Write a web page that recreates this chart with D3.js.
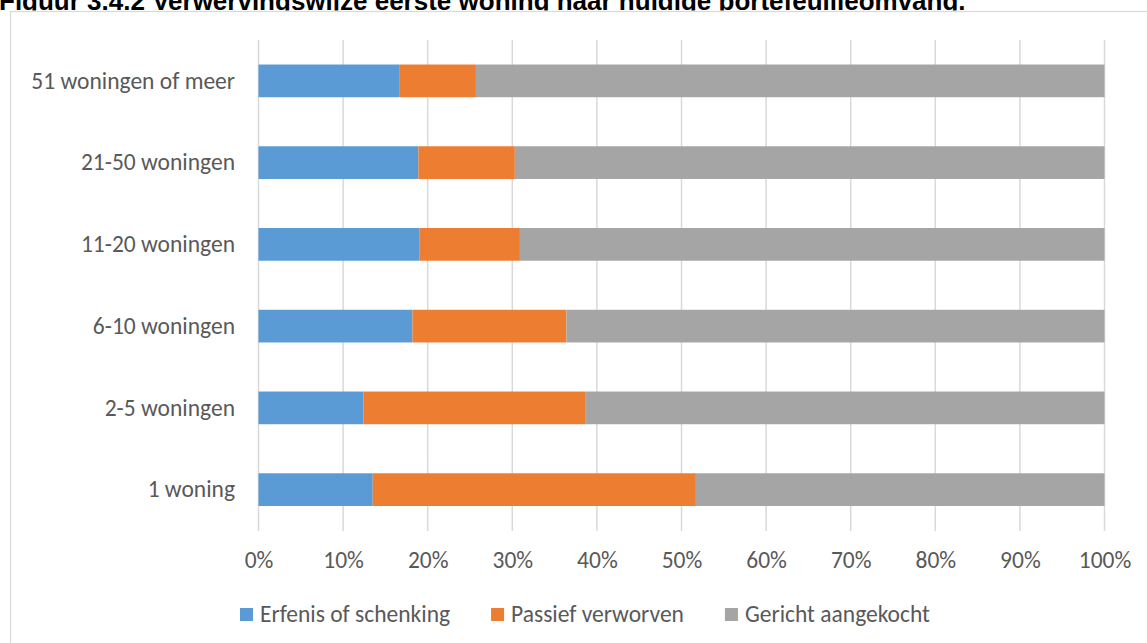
<!DOCTYPE html>
<html>
<head>
<meta charset="utf-8">
<script src="https://cdn.jsdelivr.net/npm/d3@7"></script>
<style>
  html, body { margin: 0; padding: 0; background: #fff; overflow: hidden; }
  svg { display: block; }
</style>
</head>
<body>
<svg id="chart" width="1147" height="643"></svg>
<script>
const title = "Figuur 3.4.2 Verwervingswijze eerste woning naar huidige portefeuilleomvang.";
const categories = ["51 woningen of meer", "21-50 woningen", "11-20 woningen", "6-10 woningen", "2-5 woningen", "1 woning"];
const seriesNames = ["Erfenis of schenking", "Passief verworven", "Gericht aangekocht"];
const erfenis = [16.7, 18.9, 19.0, 18.2, 12.4, 13.5];
const passief = [9.0, 11.4, 11.9, 18.2, 26.2, 38.2];
const gericht = [74.3, 69.7, 69.1, 63.6, 61.4, 48.3];
const tickValues = [0, 10, 20, 30, 40, 50, 60, 70, 80, 90, 100];
const colors = ["#5b9bd5", "#ed7d31", "#a5a5a5"];

const svg = d3.select("#chart");
const W = 1147, H = 643;
const textColor = "#595959";
const font = "Calibri, Carlito, Lato, sans-serif";
const fs = 23.5;

// Title (partially covered by the chart box, as in the reference)
svg.append("text")
  .attr("x", -1).attr("y", 10)
  .attr("font-family", "'Liberation Sans', Arial, sans-serif")
  .attr("font-weight", "bold")
  .attr("font-size", 26)
  .attr("fill", "#000")
  .text(title);

// Chart box
svg.append("rect").attr("x", 0).attr("y", 10.5).attr("width", W).attr("height", H).attr("fill", "#fff");
svg.append("rect").attr("x", 10.5).attr("y", 11.5).attr("width", W + 20).attr("height", H + 20)
  .attr("fill", "none").attr("stroke", "#d9d9d9").attr("stroke-width", 1.2);

const x = d3.scaleLinear().domain([0, 100]).range([258.5, 1104.5]);
const y = d3.scaleBand().domain(categories).range([40, 530.5]).paddingInner(0.6).paddingOuter(0.3);

// gridlines
svg.append("g").selectAll("line").data(tickValues).join("line")
  .attr("x1", d => x(d)).attr("x2", d => x(d))
  .attr("y1", 40).attr("y2", 531)
  .attr("stroke", "#d9d9d9").attr("stroke-width", 1.5);

// stacked data
const rows = categories.map((c, i) => ({ cat: c, s0: erfenis[i], s1: passief[i], s2: gericht[i] }));
const stacked = d3.stack().keys(["s0", "s1", "s2"])(rows);

svg.append("g").selectAll("g").data(stacked).join("g")
  .attr("fill", (d, i) => colors[i])
  .selectAll("rect").data(d => d).join("rect")
  .attr("x", d => x(d[0]))
  .attr("width", d => x(d[1]) - x(d[0]))
  .attr("y", d => y(d.data.cat))
  .attr("height", y.bandwidth());

// x axis tick labels
const xAxis = d3.axisBottom(x).tickValues(tickValues).tickSize(0).tickPadding(0).tickFormat(d => d + "%");
const xa = svg.append("g").attr("transform", "translate(0,568)").call(xAxis);
xa.select(".domain").remove();
xa.selectAll("text").attr("dy", 0).attr("y", 0)
  .attr("font-family", font).attr("font-size", fs).attr("fill", textColor);

// y axis labels
const yAxis = d3.axisLeft(y).tickSize(0).tickPadding(0);
const ya = svg.append("g").attr("transform", "translate(235,0)").call(yAxis);
ya.select(".domain").remove();
ya.selectAll("text").attr("dy", "0.33em")
  .attr("font-family", font).attr("font-size", fs).attr("fill", textColor);

// legend
const leg = svg.append("g").attr("transform", "translate(240,0)");
let lx = 0;
seriesNames.forEach((name, i) => {
  const it = leg.append("g").attr("transform", `translate(${lx},0)`);
  it.append("rect").attr("x", 0).attr("y", 608).attr("width", 13).attr("height", 13).attr("fill", colors[i]);
  const t = it.append("text").attr("x", 20).attr("y", 622)
    .attr("font-family", font).attr("font-size", fs).attr("fill", textColor).text(name);
  const w = t.node().getComputedTextLength();
  lx += 20 + w + 41;
});
</script>
</body>
</html>
